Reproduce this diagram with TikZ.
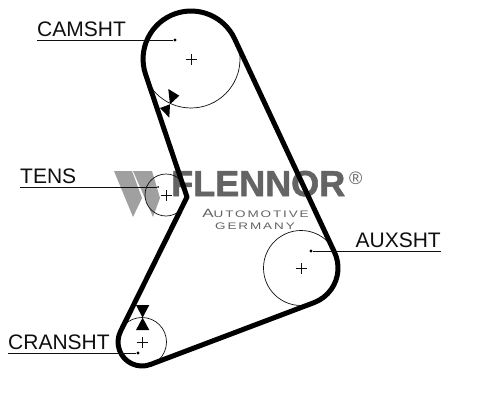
\documentclass[tikz,border=0pt]{standalone}
\usepackage{fontspec}
\setmainfont{Liberation Sans}
\newfontfamily\spacedfont[LetterSpace=14]{Liberation Sans}
\newfontfamily\brandfont[FakeBold=1.6]{Liberation Sans Bold}
\usetikzlibrary{shapes.geometric,positioning}
\definecolor{inkDark}{RGB}{15,15,15}
\definecolor{logoGray}{RGB}{100,100,100}
\definecolor{logoLight}{RGB}{160,160,160}
\tikzset{
  pulley/.style={circle, draw=inkDark, line width=0.7pt, inner sep=0pt},
  hub/.style={draw=inkDark, line width=0.6pt},
  belt/.style={draw=black, line width=5pt, line join=round},
  leader/.style={draw=inkDark, line width=0.9pt},
  tipdot/.style={circle, fill=black, inner sep=0pt, minimum size=3.4pt},
  lbl/.style={inner xsep=0pt, inner ysep=3pt, text depth=0pt, font=\fontsize{21}{24}\selectfont, text=inkDark}
}

\begin{document}
\begin{tikzpicture}[x=1pt, y=1pt]
        \useasboundingbox[fill=white] (0,0) rectangle (478,400);
        \fill[logoLight] (114,229) -- (132,229) -- (142,202) -- (133,183) -- cycle;
        \fill[logoLight] (133,229) -- (152,229) -- (160,202) -- (153,183) -- cycle;
        \node[anchor=base west, inner sep=0pt, text=logoGray, font=\fontsize{36}{40}\brandfont] (brand) at (171,204) {FLENNOR};
        \node[anchor=base west, inner sep=0pt, text=logoGray, font=\fontsize{18}{20}\selectfont] (regmark) at (349,216) {\textregistered};
        \node[anchor=base, inner sep=0pt, xscale=1.42, text=logoGray, font=\fontsize{9.5}{11}\spacedfont] (automotive) at (255.5,183) {{\fontsize{12}{12}\selectfont A}UTOMOTIVE};
        \node[anchor=base, inner sep=0pt, xscale=1.42, text=logoGray, font=\fontsize{9.5}{11}\spacedfont] (germany) at (255,171) {GERMANY};

        \node[pulley, minimum size=98pt] (cam) at (191,341) {};
        \node[pulley, minimum size=42pt] (tens) at (166,205) {};
        \node[pulley, minimum size=75pt] (aux) at (301,132) {};
        \node[pulley, minimum size=49pt] (crank) at (142,58) {};
        \foreach \p in {cam,tens,aux,crank} {
          \draw[hub] ([xshift=-5.5pt]\p.center) -- ([xshift=5.5pt]\p.center);
          \draw[hub] ([yshift=-5.5pt]\p.center) -- ([yshift=5.5pt]\p.center);
        }

        \coordinate (bend) at (187,203);
        \draw[belt] (145.6,325.6) arc[start angle=198.7, end angle=25.09, radius=48pt]
              -- (334.5,147.7) arc[start angle=25.09, end angle=-69.29, radius=37pt]
              -- (150.5,35.55) arc[start angle=-69.29, end angle=-206.3, radius=24pt]
              -- (bend) -- cycle;

        \fill[black] (168.3,311) -- (179.3,304.3) -- (170,295.7) -- (160,292) -- (169.3,282.3) -- (170,295.7) -- cycle;
        \fill[black] (136,95) -- (149.3,95) -- (142.6,82.3) -- (136,70) -- (149.3,70) -- (142.6,82.3) -- cycle;

        \node[tipdot] (camdot) at (175,360) {};
        \node[tipdot, minimum size=2pt] (tensdot) at (158,213) {};
        \node[tipdot] (auxdot) at (311,149) {};
        \node[tipdot] (crankdot) at (138,47) {};
        \node[lbl, anchor=south west] (camlabel) at (37,360) {CAMSHT};
        \node[lbl, anchor=south west] (tenslabel) at (20,213) {TENS};
        \node[lbl, anchor=south east] (auxlabel) at (441,149) {AUXSHT};
        \node[lbl, anchor=south west] (cranklabel) at (8,47) {CRANSHT};
        \draw[leader] (camlabel.south west) -- (camdot);
        \draw[leader] (tenslabel.south west) -- (tensdot);
        \draw[leader] (auxlabel.south east) -- (auxdot);
        \draw[leader] (cranklabel.south west) -- (crankdot);
      \end{tikzpicture}
\end{document}
